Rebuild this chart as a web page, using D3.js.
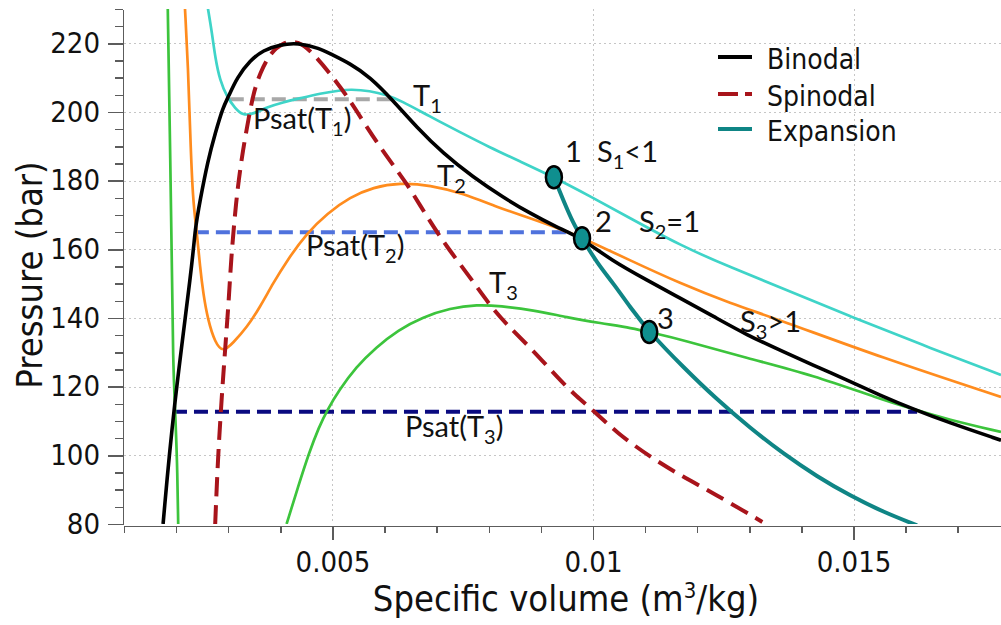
<!DOCTYPE html>
<meta charset="utf-8">
<style>
  body { margin: 0; background: #fff; }
  .axis path, .axis line { stroke: #5c5c5c; stroke-width: 1.5; shape-rendering: crispEdges; }
  .axis text { font-family: "DejaVu Sans Condensed", "DejaVu Sans", sans-serif; font-stretch: condensed; font-size: 29px; fill: #111; }
  .grid line { stroke: #c6c6c6; stroke-width: 1; stroke-dasharray: 2,3; }
  .title { font-family: "DejaVu Sans Condensed", "DejaVu Sans", sans-serif; font-stretch: condensed; font-size: 36px; fill: #111; }
  .legend text { font-family: "DejaVu Sans Condensed", "DejaVu Sans", sans-serif; font-stretch: condensed; font-size: 28px; fill: #111; }
  .note { font-family: Lato, "Open Sans", sans-serif; font-size: 29px; fill: #111; }
</style>

<script src="https://d3js.org/d3.v7.min.js"></script>

<div id="my_dataviz"></div>

<script>

// ---- data (specific volume m3/kg, pressure bar) ----
var binodal = [[0.00175,80],[0.00194,112.6],[0.00232,156.8],[0.00236,165.6],[0.00246,174.3],[0.00261,185.9],
  [0.00275,193.8],[0.00290,201.4],[0.00300,204.3],[0.00317,210.1],[0.00342,215.0],[0.00367,218.0],[0.00399,219.6],
  [0.00434,220.2],[0.00476,218.5],[0.00495,217.0],[0.00534,214.1],[0.00572,210.2],[0.00616,203.4],[0.00662,195.5],
  [0.00712,188.0],[0.00770,181.0],[0.00827,175.2],[0.00879,170.5],[0.00931,166.4],[0.00979,163.2],[0.01035,156.8],
  [0.01104,151.0],[0.01167,145.8],[0.01231,140.5],[0.01296,135.0],[0.01359,130.6],[0.01422,126.3],[0.01488,121.9],
  [0.01551,117.5],[0.01614,113.5],[0.01680,109.7],[0.01783,104.4]];

var spinodal = [[0.00275,80],[0.00280,98.6],[0.00288,118.1],[0.00294,130.6],[0.00302,147.2],[0.00305,156.0],
  [0.00315,174.3],[0.00326,186.8],[0.00336,195.5],[0.00348,205.4],[0.00361,211.3],[0.00380,217.1],[0.00405,220.3],
  [0.00434,220.8],[0.00463,217.1],[0.00495,211.3],[0.00534,203.4],[0.00566,195.5],[0.00605,186.8],[0.00643,179.2],
  [0.00682,169.3],[0.00720,160.6],[0.00764,151.9],[0.00802,143.7],[0.00835,138.0],[0.00885,130.6],[0.00931,122.8],
  [0.00969,117.0],[0.01000,113.2],[0.01046,106.5],[0.01110,99.5],[0.01173,93.7],[0.01231,89.0],[0.01325,80.6]];

var isoT1 = [[0.00261,230.2],[0.00269,222.9],[0.00275,215.9],[0.00284,209.2],[0.00298,204.3],[0.00313,201.1],
  [0.00328,199.0],[0.00348,199.4],[0.00374,201.4],[0.00405,202.8],[0.00438,204.0],[0.00476,205.4],[0.00515,206.3],
  [0.00534,206.6],[0.00572,206.2],[0.00605,204.9],[0.00630,203.4],[0.00687,198.7],[0.00745,194.1],[0.00802,189.7],
  [0.00860,185.6],[0.00925,181.0],[0.00994,175.5],[0.01071,169.1],[0.01167,161.2],[0.01263,154.8],[0.01359,149.0],
  [0.01493,140.5],[0.01628,132.4],[0.01783,123.4]];

var isoT2 = [[0.00217,230.2],[0.00223,213.0],[0.00227,193.8],[0.00232,174.3],[0.00240,164.7],[0.00246,154.8],
  [0.00252,147.2],[0.00261,139.4],[0.00275,132.7],[0.00290,130.0],[0.00309,132.7],[0.00336,137.3],[0.00361,143.2],
  [0.00386,150.1],[0.00413,156.8],[0.00451,164.7],[0.00490,170.5],[0.00534,175.2],[0.00578,178.1],[0.00630,179.4],
  [0.00687,178.7],[0.00751,176.3],[0.00816,172.3],[0.00879,169.1],[0.00943,165.6],[0.00979,163.4],[0.01071,156.8],
  [0.01167,150.1],[0.01263,144.3],[0.01359,139.4],[0.01551,128.6],[0.01783,117.0]];

var isoT3Left = [[0.00184,230.2],[0.00188,193.8],[0.00192,154.8],[0.00194,127.7],[0.00198,113.2],[0.00202,98.6],[0.00204,80]];

var isoT3Right = [[0.00412,80],[0.00434,90.8],[0.00455,100.7],[0.00474,108.2],[0.00490,113.2],[0.00513,119.0],
  [0.00545,125.7],[0.00584,131.5],[0.00626,136.5],[0.00672,140.2],[0.00726,142.9],[0.00778,143.9],[0.00822,143.5],
  [0.00885,142.3],[0.00950,140.2],[0.01014,138.5],[0.01077,137.0],[0.01108,135.9],[0.01173,133.6],[0.01296,128.3],
  [0.01422,123.4],[0.01551,116.4],[0.01614,113.5],[0.01680,110.5],[0.01783,106.8]];

var expansion = [[0.00925,181.0],[0.00943,174.3],[0.00962,167.6],[0.00979,163.2],[0.01008,156.0],[0.01039,150.1],
  [0.01071,143.2],[0.01108,135.9],[0.01173,125.7],[0.01236,116.5],[0.01302,107.9],[0.01365,100.5],[0.01430,93.8],
  [0.01494,88.2],[0.01557,83.5],[0.01622,79.6]];

var statePoints = [[0.00925,181.0],[0.00979,163.2],[0.01108,135.9]];
var stateLabels = ["1","2","3"];

// saturation pressures and their start / end volumes
var psat = [203.7, 165.0, 112.7];
var psatStart = [0.00303, 0.00236, 0.00194];
var psatEnd = [0.00616, 0.00948, 0.01622];

var xMajor = [0.005, 0.01, 0.015];
var xMinor = d3.range(1, 18).map(function(d) { return d / 1000; });
var yMajor = [80, 100, 120, 140, 160, 180, 200, 220];
var yMinor = d3.range(80, 231, 5);
var legendNames = ["Binodal", "Spinodal", "Expansion"];

// ---- layout ----
var W = 1001, H = 625;
var mLeft = 124, mRight = 1001, mTop = 9, mBottom = 524;

var svg = d3.select("#my_dataviz")
  .append("svg")
    .attr("width", W)
    .attr("height", H);

var x = d3.scaleLinear().domain([0.001, 0.01783]).range([mLeft, mRight]);
var y = d3.scaleLinear().domain([80, 230]).range([mBottom, mTop]);

// grid
var grid = svg.append("g").attr("class", "grid");
grid.selectAll("hl").data(yMajor.slice(1)).enter().append("line")
  .attr("x1", mLeft).attr("x2", mRight)
  .attr("y1", function(d) { return Math.round(y(d)) + 0.5; }).attr("y2", function(d) { return Math.round(y(d)) + 0.5; });
grid.selectAll("vl").data(xMajor).enter().append("line")
  .attr("y1", mTop).attr("y2", mBottom)
  .attr("x1", function(d) { return Math.round(x(d)) + 0.5; }).attr("x2", function(d) { return Math.round(x(d)) + 0.5; });

// axes
svg.append("g").attr("class", "axis")
  .attr("transform", "translate(" + (mLeft - 1) + ",0)")
  .call(d3.axisLeft(y).tickValues(yMinor).tickSize(8).tickSizeOuter(0).tickFormat(""));
svg.append("g").attr("class", "axis")
  .attr("transform", "translate(" + (mLeft - 1) + ",0)")
  .call(d3.axisLeft(y).tickValues(yMajor).tickSize(15).tickSizeOuter(0).tickPadding(8));

svg.append("g").attr("class", "axis")
  .attr("transform", "translate(0," + (mBottom + 2) + ")")
  .call(d3.axisBottom(x).tickValues(xMinor).tickSize(7).tickSizeOuter(0).tickFormat(""));
svg.append("g").attr("class", "axis")
  .attr("transform", "translate(0," + (mBottom + 2) + ")")
  .call(d3.axisBottom(x).tickValues(xMajor).tickSize(14).tickSizeOuter(0).tickPadding(11)
    .tickFormat(function(d) { return String(d); }));

// axis titles
var xt = svg.append("text").attr("class", "title")
  .attr("x", 566).attr("y", 611).attr("text-anchor", "middle");
xt.append("tspan").text("Specific volume (m");
xt.append("tspan").attr("font-size", "22px").attr("dy", -13).text("3");
xt.append("tspan").attr("dy", 13).text("/kg)");

svg.append("text").attr("class", "title")
  .attr("transform", "translate(42,275) rotate(-90)")
  .attr("text-anchor", "middle")
  .text("Pressure (bar)");

// curves
svg.append("clipPath").attr("id", "plotclip")
  .append("rect").attr("x", mLeft).attr("y", mTop).attr("width", mRight - mLeft).attr("height", mBottom - mTop);

var plot = svg.append("g").attr("clip-path", "url(#plotclip)");

var line = d3.line()
  .x(function(d) { return x(d[0]); })
  .y(function(d) { return y(d[1]); })
  .curve(d3.curveBasis);

function drawCurve(data, color, width, dash) {
  plot.append("path")
    .datum(data)
    .attr("fill", "none")
    .attr("stroke", color)
    .attr("stroke-width", width)
    .attr("stroke-dasharray", dash || null)
    .attr("stroke-linejoin", "round")
    .attr("d", line);
}

// saturation lines
var psatColors = ["#a8a8a8", "#4f72dd", "#0a0a80"];
psat.forEach(function(p, i) {
  plot.append("line")
    .attr("x1", x(psatStart[i])).attr("x2", x(psatEnd[i]))
    .attr("y1", y(p)).attr("y2", y(p))
    .attr("stroke", psatColors[i])
    .attr("stroke-width", 4)
    .attr("stroke-dasharray", "14,7");
});

drawCurve(isoT3Left, "#3cc43c", 2.7);
drawCurve(isoT3Right, "#3cc43c", 2.7);
drawCurve(isoT2, "#ff8c1e", 2.7);
drawCurve(isoT1, "#3fd4c8", 2.7);
drawCurve(spinodal, "#a8141b", 4, "19,9");
drawCurve(binodal, "#000", 3.6);
drawCurve(expansion, "#0f8585", 4);

// state points
plot.selectAll("pt").data(statePoints).enter().append("ellipse")
  .attr("cx", function(d) { return x(d[0]); })
  .attr("cy", function(d) { return y(d[1]); })
  .attr("rx", 8).attr("ry", 11)
  .attr("fill", "#0f8f8f")
  .attr("stroke", "#000")
  .attr("stroke-width", 2.5);

// annotations
function note(px, py, main, sub, rest) {
  var t = svg.append("text").attr("class", "note").attr("x", px).attr("y", py).text(main);
  if (sub) {
    t.append("tspan").attr("font-size", "20px").attr("dy", 7).text(sub);
    t.append("tspan").attr("dy", -7).text(rest || "");
  }
}
note(253, 129, "Psat(T", "1", ")");
note(413, 106, "T", "1");
note(306, 256, "Psat(T", "2", ")");
note(437, 186, "T", "2");
note(489, 293, "T", "3");
note(405, 437, "Psat(T", "3", ")");
note(565, 162, stateLabels[0]);
note(597, 162, "S", "1", "<1");
note(595, 232, stateLabels[1]);
note(639, 232, "S", "2", "=1");
note(657, 329, stateLabels[2]);
note(740, 332, "S", "3", ">1");

// legend
var legend = svg.append("g").attr("class", "legend");
var ly = [57, 94, 129];
legend.append("line").attr("x1", 718).attr("x2", 752).attr("y1", ly[0]).attr("y2", ly[0])
  .attr("stroke", "#000").attr("stroke-width", 4);
legend.append("line").attr("x1", 718).attr("x2", 752).attr("y1", ly[1]).attr("y2", ly[1])
  .attr("stroke", "#a8141b").attr("stroke-width", 4).attr("stroke-dasharray", "20,7,7,40");
legend.append("line").attr("x1", 718).attr("x2", 752).attr("y1", ly[2]).attr("y2", ly[2])
  .attr("stroke", "#0f8585").attr("stroke-width", 4);
legend.selectAll("lt").data(legendNames).enter().append("text")
  .attr("x", 767)
  .attr("y", function(d, i) { return ly[i] + 12; })
  .text(function(d) { return d; });

</script>
